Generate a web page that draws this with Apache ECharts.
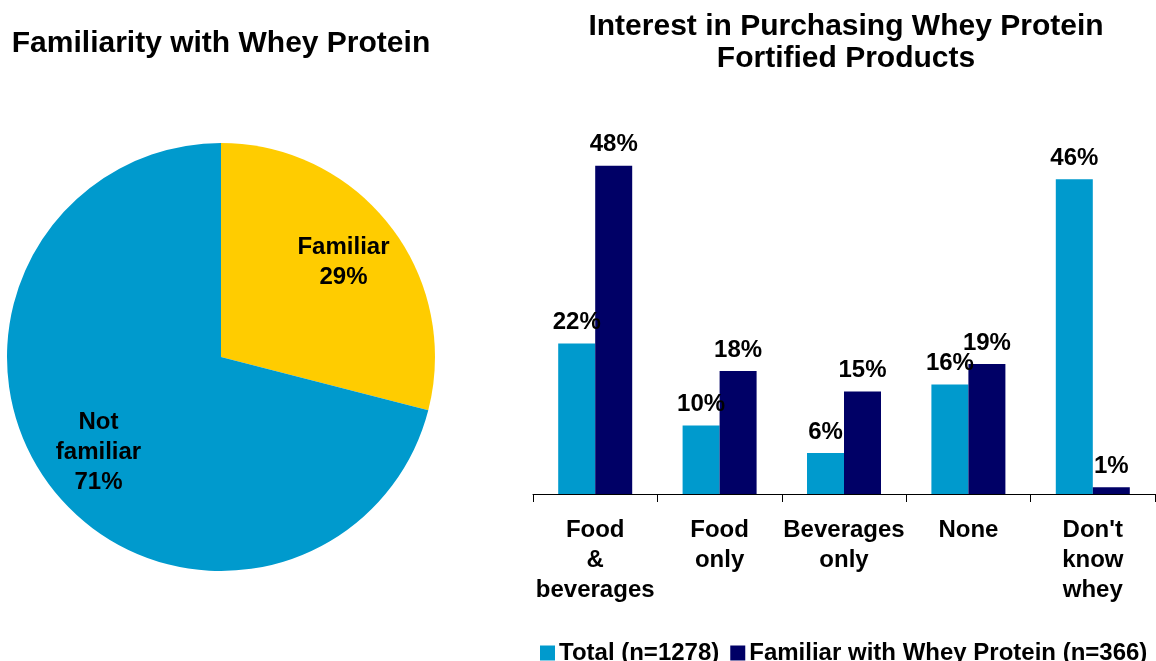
<!DOCTYPE html>
<html>
<head>
<meta charset="utf-8">
<script src="https://cdn.jsdelivr.net/npm/echarts@6/dist/echarts.min.js"></script>
<style>
  html, body { margin: 0; padding: 0; background: #fff; }
  #main { width: 1156px; height: 661px; }
</style>
</head>
<body>
<div id="main"></div>
<script>
// pie data
let pieNames = ['Familiar', 'Not\nfamiliar'];
let pieValues = [29, 71];
let pieColors = ['#FFCC00', '#009ACD'];

// bar data
let categories = ['Food\n&\nbeverages', 'Food\nonly', 'Beverages\nonly', 'None', "Don't\nknow\nwhey"];
let totalValues = [22, 10, 6, 16, 46];
let familiarValues = [48, 18, 15, 19, 1];
let seriesNames = ['Total (n=1278)', 'Familiar with Whey Protein (n=366)'];

let font = '"Liberation Sans", Arial, sans-serif';
let myChart = echarts.init(document.getElementById('main'));

let pieData = pieNames.map(function (n, i) {
    return { name: n, value: pieValues[i], itemStyle: { color: pieColors[i] } };
});

// 标签统一样式
let labelFont = { fontFamily: font, fontSize: 24, fontWeight: 'bold', color: '#000' };

let option = {
    animation: false,
    textStyle: { fontFamily: font },
    title: [{
        text: 'Familiarity with Whey Protein',
        left: 216, top: 24, textAlign: 'center',
        textStyle: { fontFamily: font, fontSize: 30, fontWeight: 'bold', color: '#000' }
    }, {
        text: 'Interest in Purchasing Whey Protein\nFortified Products',
        left: 841, top: 6, textAlign: 'center',
        textStyle: { fontFamily: font, fontSize: 30, fontWeight: 'bold', color: '#000', lineHeight: 32 }
    }],
    legend: {
        left: 535, top: 636,
        itemWidth: 15, itemHeight: 15, itemGap: 11,
        icon: 'rect',
        data: seriesNames,
        textStyle: Object.assign({ padding: [0, 0, 0, -1] }, labelFont)
    },
    grid: { left: 533, right: 1, top: 152, bottom: 167, containLabel: false },
    xAxis: {
        type: 'category',
        data: categories,
        axisLine: { lineStyle: { color: '#000', width: 1 } },
        axisTick: { show: true, length: 8, lineStyle: { color: '#000' } },
        axisLabel: Object.assign({ interval: 0, margin: 21, lineHeight: 30, align: 'center' }, labelFont)
    },
    yAxis: {
        type: 'value', min: 0, max: 50, interval: 10,
        show: false,
        splitLine: { show: false }
    },
    series: [{
        type: 'pie',
        center: [221, 357], radius: 214,
        startAngle: 90, clockwise: true,
        data: pieData,
        label: { show: false },
        labelLine: { show: false },
        silent: true
    }, {
        // 透明圆环，只用来摆放扇区标签
        type: 'pie',
        center: [221, 357], radius: [90, 214],
        startAngle: 90, clockwise: true,
        data: pieNames.map(function (n, i) { return { name: n, value: pieValues[i] }; }),
        itemStyle: { color: 'rgba(0,0,0,0)' },
        label: Object.assign({ show: true, position: 'inside', formatter: '{b}\n{c}%', lineHeight: 30, align: 'center' }, labelFont),
        labelLine: { show: false },
        silent: true
    }, {
        name: seriesNames[0],
        type: 'bar',
        data: totalValues,
        barWidth: 37, barGap: '0%',
        itemStyle: { color: '#009ACD' },
        label: Object.assign({ show: true, position: 'top', distance: 9, formatter: '{c}%' }, labelFont)
    }, {
        name: seriesNames[1],
        type: 'bar',
        data: familiarValues,
        barWidth: 37, barGap: '0%',
        itemStyle: { color: '#000066' },
        label: Object.assign({ show: true, position: 'top', distance: 9, formatter: '{c}%' }, labelFont)
    }]
};
myChart.setOption(option);
</script>
</body>
</html>
